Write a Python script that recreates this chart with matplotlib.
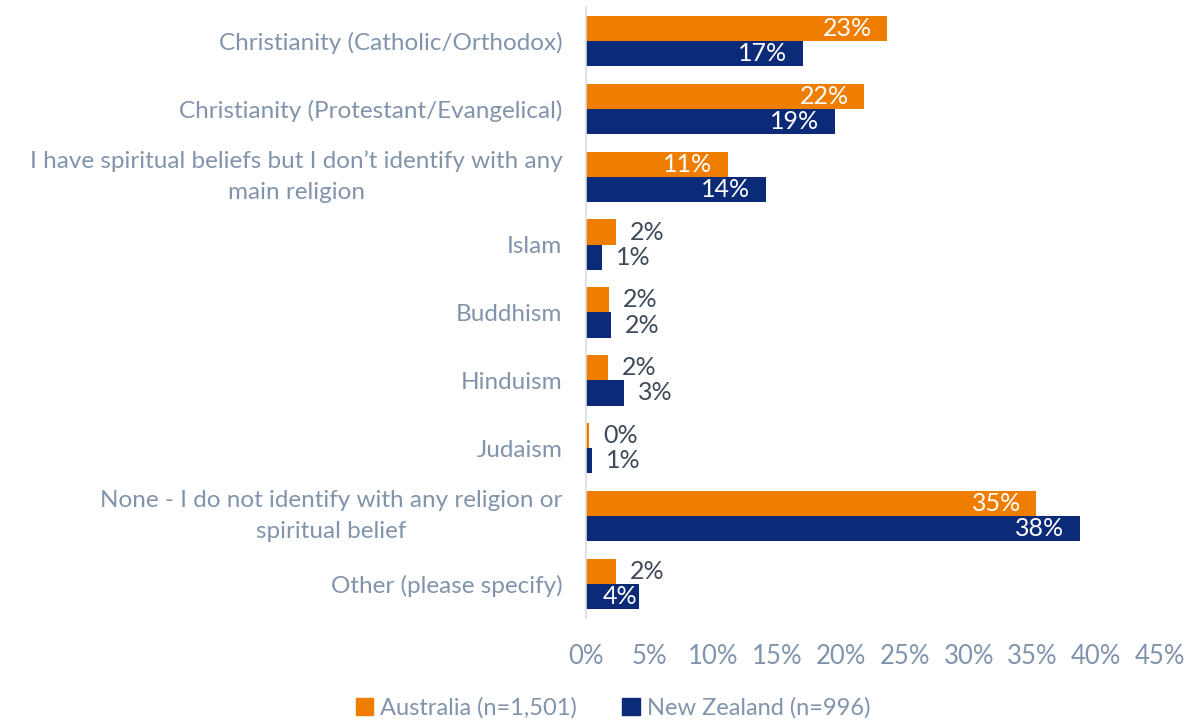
import matplotlib
matplotlib.use("Agg")
import matplotlib.pyplot as plt
from matplotlib.patches import Patch
import numpy as np

categories = [
    "Christianity (Catholic/Orthodox)",
    "Christianity (Protestant/Evangelical)",
    "I have spiritual beliefs but I don\u2019t identify with any\nmain religion",
    "Islam",
    "Buddhism",
    "Hinduism",
    "Judaism",
    "None - I do not identify with any religion or\nspiritual belief",
    "Other (please specify)",
]
australia = [23.6, 21.8, 11.1, 2.35, 1.8, 1.7, 0.24, 35.3, 2.35]
new_zealand = [17.0, 19.5, 14.1, 1.25, 1.96, 2.98, 0.47, 38.7, 4.15]
aus_labels = ["23%", "22%", "11%", "2%", "2%", "2%", "0%", "35%", "2%"]
nz_labels = ["17%", "19%", "14%", "1%", "2%", "3%", "1%", "38%", "4%"]
series_names = ["Australia (n=1,501)", "New Zealand (n=996)"]
xticks = [0, 5, 10, 15, 20, 25, 30, 35, 40, 45]

ORANGE = "#EE7D00"
NAVY = "#0B2A78"
GREY = "#8194AB"
DARK = "#3E4A5A"

plt.rcParams['font.family'] = ['Lato', 'DejaVu Sans']

fig = plt.figure(figsize=(12.01, 7.22), dpi=100)
W, H = 1201, 722
ax = fig.add_axes([586 / W, 1 - 618 / H, (1160 - 586) / W, (618 - 7) / H])

n = len(categories)
y = np.arange(n)
h = 0.37
ax.barh(y - h / 2, australia, height=h, color=ORANGE, label=series_names[0])
ax.barh(y + h / 2, new_zealand, height=h, color=NAVY, label=series_names[1])

fs = 18
for i in range(n):
    for val, lab, off in ((australia[i], aus_labels[i], -h / 2), (new_zealand[i], nz_labels[i], h / 2)):
        if val >= 4:
            gap = 1.2 if val > 6 else 0.1
            ax.text(val - gap, y[i] + off, lab, ha="right", va="center", color="white", fontsize=fs)
        else:
            ax.text(val + 1.1, y[i] + off, lab, ha="left", va="center", color=DARK, fontsize=fs)

ax.set_ylim(n - 0.5, -0.5)
ax.set_xlim(0, 45)
ax.set_yticks(y)
ax.set_yticklabels(categories, fontsize=17.5, color=GREY, ha="right",
                   multialignment="center", linespacing=1.55)
for lbl in ax.get_yticklabels():
    lbl.set_va("center" if "\n" in lbl.get_text() else "center_baseline")
ax.tick_params(axis="y", length=0, pad=17)
ax.set_xticks(xticks)
ax.set_xticklabels([f"{t}%" for t in xticks], fontsize=18.5, color=GREY)
ax.tick_params(axis="x", length=0, pad=19)
for s in ["top", "right", "bottom"]:
    ax.spines[s].set_visible(False)
ax.spines["left"].set_color("#D9DDE3")
ax.spines["left"].set_linewidth(1.2)

handles = [Patch(color=ORANGE), Patch(color=NAVY)]
fig.legend(handles, series_names, loc="center", bbox_to_anchor=(613 / W, 1 - 708 / H), ncol=2,
           frameon=False, fontsize=17, labelcolor=GREY, handlelength=0.75, handleheight=0.75,
           handletextpad=0.3, columnspacing=1.9)

fig.savefig("out.png", dpi=100)
